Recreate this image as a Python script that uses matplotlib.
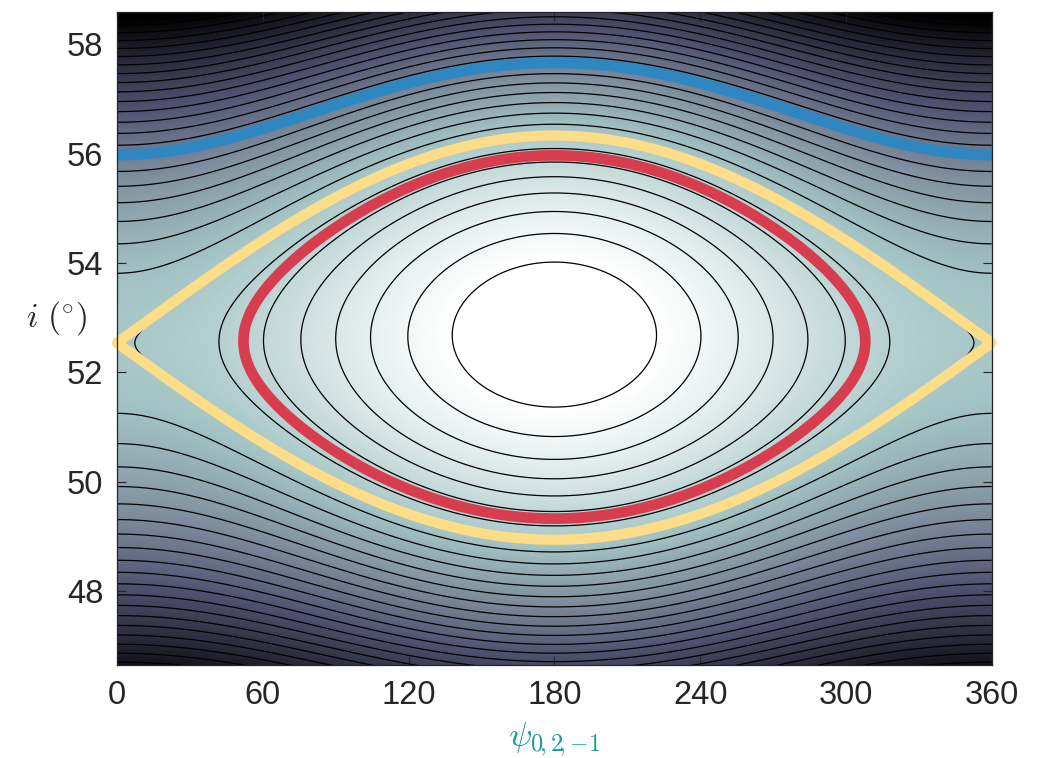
import numpy as np
import matplotlib
matplotlib.use("Agg")
import matplotlib.pyplot as plt

# grid in resonant angle (deg) and inclination (deg)
psi = np.linspace(0, 360, 1441)
inc = np.linspace(46.5, 58.8, 1231)

# single-resonance model: H = q u^2 + k u^3 + (a0 + a1 u) cos(psi),  u = i - i_ref
i_ref = 52.62
quad, cubic = 1.0, 0.0095
amp0, amp1 = 6.83, 0.16

# black level curves: evenly spaced in H
step = 1.692
level_idx = np.arange(-3, 28)

# highlighted orbits
h_lib = 4.2     # libration (red)
h_circ = 19.0   # circulation above the resonance (blue)

# colour scale limits
h_lo, h_hi = -5.1, 43.5

xticks = [0, 60, 120, 180, 240, 300, 360]
yticks = [48, 50, 52, 54, 56, 58]

P, I = np.meshgrid(psi, inc)
u = I - i_ref
H = quad * u**2 + cubic * u**3 + (amp0 + amp1 * u) * np.cos(np.radians(P))

# hyperbolic point at psi = 0 -> separatrix energy
u_x = (-2 * quad + np.sqrt(4 * quad**2 - 12 * cubic * amp1)) / (6 * cubic)
h_sep = quad * u_x**2 + cubic * u_x**3 + amp0 + amp1 * u_x

plt.rcParams["font.family"] = ["Liberation Sans", "DejaVu Sans"]
plt.rcParams["mathtext.fontset"] = "cm"
plt.rcParams["contour.negative_linestyle"] = "solid"

fig = plt.figure(figsize=(10.45, 7.58), dpi=100)
ax = fig.add_axes([0.112, 0.1227, 0.837, 0.8615])

ax.imshow(H, extent=[psi[0], psi[-1], inc[0], inc[-1]], origin="lower",
          aspect="auto", cmap="bone_r", vmin=h_lo, vmax=h_hi,
          interpolation="bilinear")
ax.contour(P, I, H, levels=step * level_idx, colors="black", linewidths=0.9,
           linestyles="solid")

red = ax.contour(P, I, H, levels=[h_lib], colors="#d73c4f", linewidths=7.7)
yel = ax.contour(P, I, H, levels=[h_sep], colors="#fddd87", linewidths=7.4)
yel.set_clip_on(False)
H_top = np.ma.masked_where(I < i_ref, H)
blue = ax.contour(P, I, H_top, levels=[h_circ], colors="#2e87c1", linewidths=8.0)
for cs in (red, yel, blue):
    cs.set_capstyle("round")
    cs.set_joinstyle("round")

ax.set_xlim(0, 360)
ax.set_ylim(46.65, 58.59)
ax.set_xticks(xticks)
ax.set_yticks(yticks)
ax.tick_params(direction="in", length=6.3, width=0.8, top=True, right=True,
               labelsize=23.5, colors="#262626")
ax.tick_params(axis="x", pad=11)
ax.tick_params(axis="y", pad=10)
for sp in ax.spines.values():
    sp.set_color("#262626")
    sp.set_linewidth(0.9)

ax.set_xlabel(r"$\psi_{0\!,2\!,{-}1}$", fontsize=25, color="#1f9a98",
              va="center")
ax.xaxis.set_label_coords(0.5, -0.115)
ax.set_ylabel(r"$i\ (^{\circ})$", fontsize=24, color="#262626", rotation=0,
              ha="center", va="center")
ax.yaxis.set_label_coords(-0.069, 0.531)

fig.savefig("out.png", dpi=100)
